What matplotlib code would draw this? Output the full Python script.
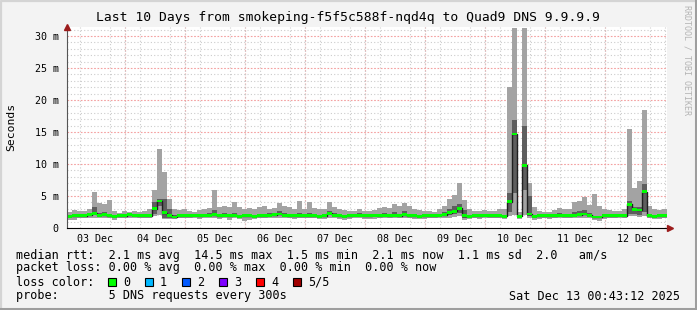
import numpy as np
import pandas as pd
import matplotlib
matplotlib.use("Agg")
import matplotlib.pyplot as plt
import matplotlib.dates as mdates
from matplotlib.patches import Rectangle
from matplotlib.lines import Line2D
from matplotlib.ticker import MultipleLocator, FuncFormatter

# 2-hour bins, Dec 03 00:43 -> Dec 13 00:43, values in ms (one row = one day)
rtt_min = [
    1.3, 1.2, 1.5, 1.5, 1.5, 1.6, 1.5, 1.5, 1.5, 1.3, 1.5, 1.5,
    1.6, 1.6, 1.5, 1.5, 1.5, 1.8, 2.0, 1.4, 1.4, 1.4, 1.5, 1.5,
    1.5, 1.5, 1.4, 1.5, 1.6, 1.6, 1.4, 1.5, 1.3, 1.5, 1.4, 1.1,
    1.2, 1.4, 1.5, 1.5, 1.6, 1.5, 1.6, 1.5, 1.5, 1.4, 1.5, 1.5,
    1.5, 1.5, 1.4, 1.4, 1.6, 1.5, 1.4, 1.3, 1.4, 1.5, 1.5, 1.4,
    1.4, 1.4, 1.5, 1.5, 1.5, 1.6, 1.5, 1.5, 1.5, 1.4, 1.4, 1.4,
    1.5, 1.5, 1.5, 1.6, 1.6, 1.7, 1.8, 1.3, 1.4, 1.5, 1.4, 1.5,
    1.5, 1.5, 1.5, 1.4, 1.9, 2.0, 1.4, 2.0, 1.5, 1.2, 1.4, 1.5,
    1.4, 1.5, 1.5, 1.5, 1.5, 1.6, 1.6, 1.6, 1.5, 1.2, 1.1, 1.4,
    1.5, 1.5, 1.5, 1.5, 1.8, 1.8, 1.7, 1.8, 1.5, 1.4, 1.4, 1.5,
]
rtt_p2 = [
    1.7, 1.8, 1.8, 1.8, 1.9, 2.0, 1.9, 1.9, 1.8, 1.7, 1.8, 1.8,
    1.9, 1.9, 1.8, 1.8, 1.8, 2.2, 3.5, 1.6, 1.6, 1.6, 1.8, 1.8,
    1.8, 1.9, 1.8, 1.9, 1.9, 1.9, 1.8, 1.9, 1.7, 1.9, 1.7, 1.7,
    1.7, 1.7, 1.8, 1.8, 1.9, 1.9, 2.0, 1.9, 1.8, 1.8, 1.8, 1.8,
    1.8, 1.8, 1.7, 1.8, 2.0, 1.9, 1.8, 1.7, 1.8, 1.9, 1.9, 1.8,
    1.8, 1.9, 1.8, 1.9, 1.8, 1.9, 1.8, 1.9, 1.8, 1.8, 1.7, 1.8,
    1.8, 1.8, 1.9, 1.9, 2.0, 2.2, 2.4, 1.6, 1.7, 1.8, 1.8, 1.9,
    1.8, 1.8, 1.8, 1.7, 2.5, 5.4, 1.6, 5.9, 1.8, 1.6, 1.8, 1.8,
    1.8, 1.8, 1.9, 1.8, 1.8, 1.9, 1.9, 2.0, 1.9, 1.5, 1.5, 1.8,
    1.8, 1.8, 1.9, 1.8, 2.2, 2.2, 2.1, 2.5, 1.8, 1.7, 1.8, 1.8,
]
rtt_median = [
    1.8, 1.9, 1.9, 1.9, 2.1, 2.3, 2.0, 2.1, 1.9, 1.8, 1.9, 1.9,
    2.1, 2.0, 1.9, 1.9, 1.9, 3.0, 4.2, 2.4, 2.0, 1.7, 1.9, 1.9,
    1.9, 2.0, 1.9, 2.0, 2.0, 2.1, 1.9, 2.0, 1.9, 2.0, 1.8, 1.9,
    1.9, 1.8, 1.9, 1.9, 2.0, 2.1, 2.2, 2.0, 1.9, 1.9, 1.9, 1.9,
    1.9, 1.9, 1.8, 1.9, 2.3, 2.0, 1.9, 1.8, 1.9, 2.0, 2.0, 1.9,
    1.9, 2.0, 1.9, 2.0, 1.9, 2.0, 1.9, 2.1, 1.9, 1.9, 1.8, 1.9,
    1.9, 1.9, 2.0, 2.1, 2.4, 2.6, 3.1, 1.9, 1.8, 1.9, 1.9, 2.0,
    1.9, 1.9, 1.9, 1.8, 4.1, 14.7, 1.8, 9.8, 2.2, 1.8, 1.9, 1.9,
    1.9, 1.9, 2.0, 1.9, 1.9, 2.0, 2.1, 2.2, 2.0, 1.7, 1.7, 1.9,
    1.9, 1.9, 2.0, 1.9, 3.7, 2.9, 2.8, 5.7, 1.9, 1.8, 1.9, 1.9,
]
rtt_p4 = [
    2.0, 2.1, 2.1, 2.1, 2.4, 3.3, 2.4, 2.5, 2.2, 2.0, 2.1, 2.1,
    2.3, 2.2, 2.1, 2.1, 2.2, 4.0, 4.6, 4.6, 3.0, 2.1, 2.1, 2.2,
    2.1, 2.2, 2.1, 2.2, 2.3, 2.8, 2.2, 2.3, 2.2, 2.4, 2.1, 2.1,
    2.2, 2.1, 2.2, 2.2, 2.3, 2.4, 2.6, 2.3, 2.2, 2.1, 2.3, 2.1,
    2.3, 2.2, 2.1, 2.1, 2.7, 2.3, 2.1, 2.0, 2.1, 2.2, 2.3, 2.1,
    2.1, 2.2, 2.2, 2.3, 2.2, 2.5, 2.2, 2.6, 2.2, 2.1, 2.0, 2.1,
    2.1, 2.1, 2.2, 2.5, 3.0, 3.5, 3.7, 2.8, 2.0, 2.1, 2.1, 2.2,
    2.1, 2.1, 2.2, 2.1, 5.5, 16.9, 2.0, 15.9, 5.0, 2.0, 2.1, 2.1,
    2.1, 2.2, 2.3, 2.1, 2.2, 2.5, 2.6, 2.8, 2.3, 1.9, 1.9, 2.1,
    2.1, 2.1, 2.2, 2.1, 4.2, 3.3, 3.3, 6.8, 2.1, 2.0, 2.1, 2.1,
]
rtt_max = [
    2.5, 2.8, 2.7, 2.7, 3.0, 5.6, 3.9, 3.7, 4.4, 2.7, 2.3, 2.7,
    2.5, 2.7, 2.5, 2.6, 3.0, 6.0, 12.4, 8.8, 4.6, 3.0, 2.8, 3.0,
    2.6, 2.5, 2.8, 3.0, 3.2, 6.0, 3.3, 3.4, 3.3, 4.0, 3.3, 2.9,
    3.2, 3.0, 3.3, 3.4, 3.0, 3.1, 3.9, 3.5, 3.3, 3.0, 4.2, 3.0,
    4.0, 3.2, 3.0, 3.0, 4.1, 3.3, 2.9, 2.8, 2.7, 2.6, 2.9, 2.7,
    2.7, 2.8, 3.1, 3.3, 3.2, 3.8, 3.4, 3.9, 3.4, 3.0, 2.8, 2.7,
    2.6, 2.5, 2.9, 3.5, 4.6, 5.2, 7.0, 4.4, 2.9, 2.7, 2.6, 2.8,
    2.7, 2.6, 2.9, 3.0, 22.0, 31.3, 2.5, 31.3, 7.0, 3.3, 2.6, 2.5,
    2.5, 2.8, 3.1, 2.9, 2.9, 4.1, 4.2, 4.9, 3.6, 5.3, 3.5, 3.0,
    2.8, 2.7, 2.7, 2.9, 15.5, 6.2, 7.3, 18.5, 3.4, 2.9, 2.8, 3.0,
]

day_labels = ["03 Dec", "04 Dec", "05 Dec", "06 Dec", "07 Dec",
              "08 Dec", "09 Dec", "10 Dec", "11 Dec", "12 Dec"]
loss_labels = ["0", "1", "2", "3", "4", "5/5"]
loss_colors = ["#00ff00", "#00b8ff", "#0059ff", "#7e00ff", "#ff0000", "#a00000"]

title = "Last 10 Days from smokeping-f5f5c588f-nqd4q to Quad9 DNS 9.9.9.9"
line_rtt = "median rtt:  2.1 ms avg  14.5 ms max  1.5 ms min  2.1 ms now  1.1 ms sd  2.0   am/s"
line_loss = "packet loss: 0.00 % avg  0.00 % max  0.00 % min  0.00 % now"
line_probe = "probe:       5 DNS requests every 300s"
stamp = "Sat Dec 13 00:43:12 2025"

W, H = 697, 310
MONO = "DejaVu Sans Mono"

start = mdates.date2num(pd.Timestamp("2025-12-03 00:43:12"))
end = mdates.date2num(pd.Timestamp("2025-12-13 00:43:12"))
step = 2 / 24
edges = start + np.arange(len(rtt_median) + 1) * step

def ext(a):
    return np.append(a, a[-1])

fig = plt.figure(figsize=(W / 100, H / 100), dpi=100, facecolor="#f3f3f3")
ax = fig.add_axes([67 / W, (H - 228) / H, 600 / W, 201 / H])
ax.set_facecolor("white")

# smoke
ax.fill_between(edges, ext(rtt_min), ext(rtt_max), step="post", color="#a3a3a3", lw=0, zorder=2)
ax.fill_between(edges, ext(rtt_p2), ext(rtt_p4), step="post", color="#5e5e5e", lw=0, zorder=3)
# median: thin dark line plus green loss-colour bars
ax.plot(edges, ext(rtt_median), drawstyle="steps-post", color="#202020", lw=1, zorder=4)
med = np.array(rtt_median)
ax.bar(edges[:-1], 0.42, width=step, bottom=med - 0.21, align="edge",
       color=loss_colors[0], lw=0, zorder=5)

ax.set_xlim(start, end)
ax.set_ylim(0, 31.4)

# grid
ax.yaxis.set_major_locator(MultipleLocator(5))
ax.yaxis.set_minor_locator(MultipleLocator(1))
ax.yaxis.set_major_formatter(FuncFormatter(lambda v, p: "0" if v == 0 else f"{v:.0f} m"))
ax.xaxis.set_minor_locator(mdates.HourLocator(byhour=[0, 6, 12, 18]))
ax.grid(which="minor", color="#cccccc", lw=0.8, ls=(0, (1, 2)), zorder=0)
ax.grid(which="major", axis="y", color="#f4a0a0", lw=0.8, ls=(0, (1.5, 1.5)), zorder=1)
for d in pd.date_range("2025-12-04", "2025-12-12", freq="D"):
    ax.axvline(mdates.date2num(d), color="#f4a0a0", lw=0.8, ls=(0, (1.5, 1.5)), zorder=1)

noons = mdates.date2num(pd.date_range("2025-12-03 12:00", periods=len(day_labels), freq="D"))
ax.set_xticks(noons)
ax.set_xticklabels(day_labels)
ax.tick_params(axis="x", which="both", length=0, pad=4, labelsize=7.2)
ax.tick_params(axis="y", which="both", length=0, pad=6, labelsize=7.2)
for lab in ax.get_xticklabels() + ax.get_yticklabels():
    lab.set_family(MONO)

for s in ["top", "right"]:
    ax.spines[s].set_visible(False)
ax.spines["left"].set_color("#555555")
ax.spines["bottom"].set_color("black")
ax.spines["left"].set_zorder(6)
ax.spines["bottom"].set_zorder(6)

# axis arrows
ax.plot([0], [1.0], marker="^", ms=5, color="#9c1c1c", transform=ax.transAxes,
        clip_on=False, zorder=7)
ax.plot([1.005], [0], marker=">", ms=5, color="#9c1c1c", transform=ax.transAxes,
        clip_on=False, zorder=7)

# texts
fig.text(348 / W, 1 - 18 / H, title, ha="center", va="center", family=MONO, fontsize=9.4)
fig.text(11 / W, 1 - 127 / H, "Seconds", rotation=90, ha="center", va="center",
         family=MONO, fontsize=8.2)
fig.text(687 / W, 1 - 60 / H, "RRDTOOL / TOBI OETIKER", rotation=270, ha="center",
         va="center", family=MONO, fontsize=6, color="#b4b4b4")

fig.text(16 / W, 1 - 255 / H, line_rtt, va="center", family=MONO, fontsize=8.5)
fig.text(16 / W, 1 - 268 / H, line_loss, va="center", family=MONO, fontsize=8.5)
fig.text(16 / W, 1 - 282 / H, "loss color:", va="center", family=MONO, fontsize=8.5)
fig.text(16 / W, 1 - 296 / H, line_probe, va="center", family=MONO, fontsize=8.5)
fig.text(680 / W, 1 - 296 / H, stamp, ha="right", va="center", family=MONO, fontsize=8.5)

for i, (lab, col) in enumerate(zip(loss_labels, loss_colors)):
    bx = 108 + i * 37
    fig.add_artist(Rectangle((bx / W, 1 - 286 / H), 8 / W, 8 / H, transform=fig.transFigure,
                             facecolor=col, edgecolor="black", lw=0.8))
    fig.text((bx + 15) / W, 1 - 282 / H, lab, va="center", family=MONO, fontsize=8.5)

# 3d frame
fig.add_artist(Line2D([0.5 / W, 0.5 / W, 1], [0, 1 - 0.5 / H, 1 - 0.5 / H],
                      transform=fig.transFigure, color="#d4d4d4", lw=1.6))
fig.add_artist(Line2D([0, 1 - 1 / W, 1 - 1 / W], [1 / H, 1 / H, 1],
                      transform=fig.transFigure, color="#9e9e9e", lw=2.2))

fig.savefig("out.png", dpi=100, facecolor=fig.get_facecolor())
